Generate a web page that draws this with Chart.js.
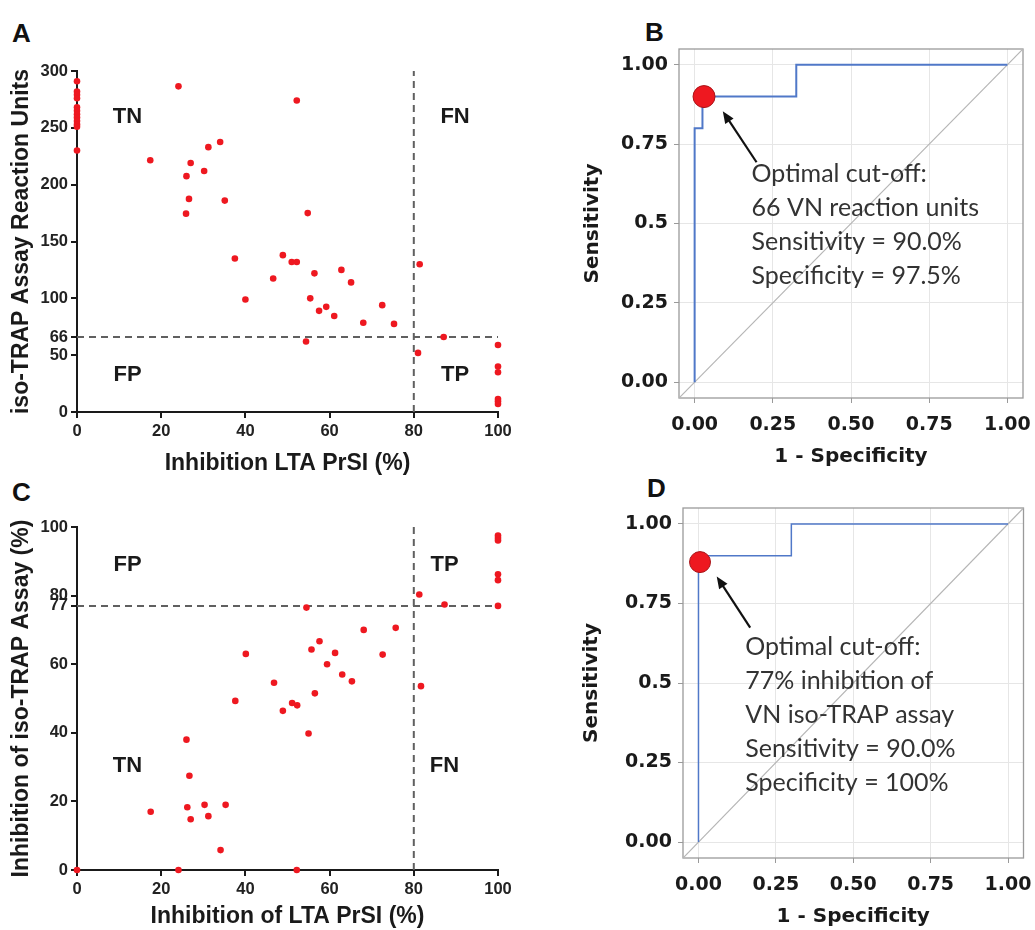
<!DOCTYPE html>
<html>
<head>
<meta charset="utf-8">
<script src="https://cdn.jsdelivr.net/npm/chart.js@4.4.0/dist/chart.umd.min.js"></script>
<style>
  body { margin: 0; background: #fff; width: 1035px; height: 930px; position: relative; overflow: hidden; }
  canvas { position: absolute; }
  .letter { position: absolute; font: bold 26px "Liberation Sans", Arial, sans-serif; line-height: 1; color: #111; }
</style>
</head>
<body>
<div class="letter" style="left:12px;top:20px">A</div>
<div class="letter" style="left:645px;top:19px">B</div>
<div class="letter" style="left:12px;top:479px">C</div>
<div class="letter" style="left:647px;top:475px">D</div>

<canvas id="chartA" width="520" height="480" style="left:0;top:0"></canvas>
<canvas id="chartB" width="515" height="470" style="left:520px;top:0"></canvas>
<canvas id="chartC" width="520" height="450" style="left:0;top:480px"></canvas>
<canvas id="chartD" width="515" height="460" style="left:520px;top:470px"></canvas>

<script>
// Datos panel A: inhibición LTA vs unidades iso-TRAP
const ltaA = [0, 0, 0, 0, 0, 0, 0, 0, 0, 0, 0, 0,
  24.1, 52.2, 17.4, 27, 31.2, 34, 26, 30.2, 26.6, 35.1, 25.9, 54.8,
  37.5, 48.9, 51, 52.2, 46.6, 56.4, 62.8, 65.1, 40, 55.4, 57.5, 59.2,
  61.1, 72.5, 68, 75.3, 81.4, 54.4, 81, 87.1,
  100, 100, 100, 100, 100, 100];
const unitsA = [291, 282, 279, 276, 268, 265, 262, 259, 256, 253, 251, 230,
  286.5, 274, 221.5, 219, 233, 237.5, 207.5, 212, 187.5, 186, 174.5, 175,
  135, 138, 132, 132, 117.5, 122, 125, 114, 99, 100, 89, 92.5,
  84.5, 94, 78.5, 77.5, 130, 62, 52, 66,
  59, 40, 35, 11.5, 9.5, 7];
const yTicksA = [0, 50, 66, 100, 150, 200, 250, 300];
const cutA = 66;

// Datos panel C: inhibición LTA vs inhibición iso-TRAP
const ltaC = [0, 24.1, 52.2,
  17.5, 26.2, 27, 30.3, 31.2, 35.3, 34.1, 26.7, 26, 37.6, 40.1, 46.8,
  48.9, 51.1, 52.3, 55, 54.5, 55.7, 57.6, 56.5, 59.4, 61.3, 63, 65.3,
  68.1, 72.6, 75.7, 81.3, 81.7, 87.3,
  100, 100, 100, 100, 100, 100];
const inhibC = [0, 0, 0,
  17, 18.3, 14.8, 19, 15.7, 19, 5.8, 27.5, 38, 49.3, 63, 54.6,
  46.4, 48.7, 48, 39.8, 76.5, 64.3, 66.7, 51.5, 60, 63.3, 57, 55,
  70, 62.8, 70.6, 80.3, 53.6, 77.4,
  97.5, 96.8, 96.1, 86.2, 84.5, 77];
const yTicksC = [0, 20, 40, 60, 77, 80, 100];
const cutC = 77;
const cutLTA = 80;

// Curvas ROC
const rocBx = [0, 0, 0.025, 0.025, 0.325, 0.325, 1];
const rocBy = [0, 0.8, 0.8, 0.9, 0.9, 1, 1];
const optB = [0.03, 0.9];
const rocDx = [0, 0, 0.3, 0.3, 1];
const rocDy = [0, 0.9, 0.9, 1, 1];
const optD = [0.005, 0.88];
const rocTicks = [0, 0.25, 0.5, 0.75, 1];
const rocXLabels = ["0.00", "0.25", "0.50", "0.75", "1.00"];
const rocYLabels = ["0.00", "0.25", "0.5", "0.75", "1.00"];

const notaB = ["Optimal cut-off:", "66 VN reaction units", "Sensitivity = 90.0%", "Specificity = 97.5%"];
const notaD = ["Optimal cut-off:", "77% inhibition of", "VN iso-TRAP assay", "Sensitivity = 90.0%", "Specificity = 100%"];

const ROJO = "rgb(238,24,32)";
const AZUL = "#5078c8";
const ARIAL = '"Liberation Sans", Arial, sans-serif';
const DEJAVU = '"DejaVu Sans", Verdana, sans-serif';

const puntos = (xs, ys) => xs.map((x, i) => ({ x, y: ys[i] }));

// Etiquetas TN / FN / FP / TP
const pluginCuadrantes = {
  id: "cuadrantes",
  afterDatasetsDraw(chart, args, opts) {
    const { ctx, scales: { x, y } } = chart;
    ctx.save();
    ctx.font = "bold 22px " + ARIAL;
    ctx.fillStyle = "#1a1a1a";
    ctx.textAlign = "center";
    ctx.textBaseline = "middle";
    opts.textos.forEach((t, i) => {
      ctx.fillText(t, x.getPixelForValue(opts.xs[i]), y.getPixelForValue(opts.ys[i]));
    });
    ctx.restore();
  },
};

// Marco, flecha y nota de los paneles ROC
const pluginROC = {
  id: "roc",
  beforeDatasetsDraw(chart) {
    const { ctx, chartArea: a } = chart;
    ctx.save();
    ctx.strokeStyle = "#9a9a9a";
    ctx.lineWidth = 1.3;
    ctx.strokeRect(a.left, a.top, a.right - a.left, a.bottom - a.top);
    ctx.restore();
  },
  afterDatasetsDraw(chart, args, opts) {
    const { ctx, scales: { x, y } } = chart;
    const x0 = x.getPixelForValue(opts.cola[0]), y0 = y.getPixelForValue(opts.cola[1]);
    const x1 = x.getPixelForValue(opts.punta[0]), y1 = y.getPixelForValue(opts.punta[1]);
    const ang = Math.atan2(y1 - y0, x1 - x0);
    ctx.save();
    ctx.strokeStyle = "#111";
    ctx.fillStyle = "#111";
    ctx.lineWidth = 2.2;
    ctx.beginPath();
    ctx.moveTo(x0, y0);
    ctx.lineTo(x1 - 8 * Math.cos(ang), y1 - 8 * Math.sin(ang));
    ctx.stroke();
    ctx.beginPath();
    ctx.moveTo(x1, y1);
    ctx.lineTo(x1 - 12 * Math.cos(ang) + 5 * Math.sin(ang), y1 - 12 * Math.sin(ang) - 5 * Math.cos(ang));
    ctx.lineTo(x1 - 12 * Math.cos(ang) - 5 * Math.sin(ang), y1 - 12 * Math.sin(ang) + 5 * Math.cos(ang));
    ctx.closePath();
    ctx.fill();

    ctx.font = "25px Lato, sans-serif";
    ctx.fillStyle = "#333";
    ctx.textAlign = "left";
    ctx.textBaseline = "middle";
    const tx = x.getPixelForValue(opts.ancla[0]);
    const ty = y.getPixelForValue(opts.ancla[1]);
    opts.lineas.forEach((l, i) => ctx.fillText(l, tx, ty + i * 34));
    ctx.restore();
  },
};

// Opciones de los paneles de dispersión (A y C)
const escalasDispersion = (cfg) => ({
  x: {
    type: "linear", min: 0, max: 100,
    afterFit: (s) => { s.height = cfg.altoX; s.paddingLeft = 0; s.paddingRight = 0; },
    grid: { drawOnChartArea: false, color: "#1a1a1a", lineWidth: 2, tickLength: 6 },
    border: { color: "#1a1a1a", width: 2 },
    ticks: { stepSize: 20, padding: 4, maxRotation: 0, color: "#222", font: { family: ARIAL, size: 16.5, weight: "bold" } },
    title: { display: true, text: cfg.tituloX, color: "#1a1a1a", padding: { top: 0, bottom: cfg.padTituloX }, font: { family: ARIAL, size: 23, weight: "bold", lineHeight: 1.2 } },
  },
  y: {
    type: "linear", min: 0, max: cfg.maxY,
    afterBuildTicks: (s) => { s.ticks = cfg.ticksY.map((v) => ({ value: v })); },
    afterFit: (s) => { s.width = 77; s.paddingTop = 0; s.paddingBottom = 0; },
    grid: { drawOnChartArea: false, color: "#1a1a1a", lineWidth: 2, tickLength: 6 },
    border: { color: "#1a1a1a", width: 2 },
    ticks: { autoSkip: false, padding: 3, color: "#222", font: { family: ARIAL, size: 16.5, weight: "bold" } },
    title: { display: true, text: cfg.tituloY, color: "#1a1a1a", padding: { top: 8, bottom: 0 }, font: { family: ARIAL, size: 23, weight: "bold", lineHeight: 1.2 } },
  },
});

const dashed = (data) => ({
  data, showLine: true, borderColor: "#606060", borderWidth: 2, borderDash: [7, 5],
  pointRadius: 0, clip: false,
});

const crearDispersion = (id, xs, ys, cfg) => new Chart(document.getElementById(id), {
  type: "scatter",
  data: {
    datasets: [
      { data: puntos(xs, ys), backgroundColor: ROJO, borderWidth: 0, pointRadius: 3.3, clip: false },
      dashed([{ x: 0, y: cfg.corte }, { x: 100, y: cfg.corte }]),
      dashed([{ x: cutLTA, y: 0 }, { x: cutLTA, y: cfg.maxY }]),
    ],
  },
  options: {
    responsive: false, animation: false,
    layout: { padding: { top: cfg.arriba, right: 22, left: 0, bottom: 0 } },
    scales: escalasDispersion(cfg),
    plugins: { legend: { display: false }, tooltip: { enabled: false }, cuadrantes: cfg.cuadrantes },
  },
  plugins: [pluginCuadrantes],
});

crearDispersion("chartA", ltaA, unitsA, {
  maxY: 300, ticksY: yTicksA, corte: cutA, arriba: 71, altoX: 68, padTituloX: 3,
  tituloX: "Inhibition LTA PrSI (%)", tituloY: "iso-TRAP Assay Reaction Units",
  cuadrantes: { textos: ["TN", "FN", "FP", "TP"], xs: [12, 89.8, 12, 89.8], ys: [260, 260, 33, 33] },
});

crearDispersion("chartC", ltaC, inhibC, {
  maxY: 100, ticksY: yTicksC, corte: cutC, arriba: 47, altoX: 60, padTituloX: 0,
  tituloX: "Inhibition of LTA PrSI (%)", tituloY: "Inhibition of iso-TRAP Assay (%)",
  cuadrantes: { textos: ["FP", "TP", "TN", "FN"], xs: [12, 87.3, 12, 87.3], ys: [89, 89, 30.3, 30.3] },
});

// Paneles ROC (B y D)
const crearROC = (id, rx, ry, opt, cfg) => new Chart(document.getElementById(id), {
  type: "scatter",
  data: {
    datasets: [
      { data: [{ x: opt[0], y: opt[1] }], backgroundColor: ROJO, borderColor: "#a81418", borderWidth: 1, pointRadius: cfg.radio, clip: false },
      { data: puntos(rx, ry), showLine: true, borderColor: AZUL, borderWidth: cfg.grosor, pointRadius: 0, clip: false },
      { data: [{ x: -0.05, y: -0.05 }, { x: 1.05, y: 1.05 }], showLine: true, borderColor: "#b5b5b5", borderWidth: 1.2, pointRadius: 0 },
    ],
  },
  options: {
    responsive: false, animation: false,
    layout: { padding: { top: cfg.arriba, right: cfg.derecha, left: 0, bottom: 0 } },
    scales: {
      x: {
        type: "linear", min: -0.05, max: 1.05,
        afterBuildTicks: (s) => { s.ticks = rocTicks.map((v) => ({ value: v })); },
        afterFit: (s) => { s.height = cfg.altoX; s.paddingLeft = 0; s.paddingRight = 0; },
        grid: { color: "#e6e6e6", lineWidth: 1, tickColor: "#9a9a9a", tickLength: 5 },
        border: { display: false },
        ticks: { autoSkip: false, maxRotation: 0, padding: 11, color: "#1a1a1a", font: { family: DEJAVU, size: 19, weight: "bold" },
          callback: (v, i) => rocXLabels[i] },
        title: { display: true, text: "1 - Specificity", color: "#1a1a1a", padding: { top: 0, bottom: 1 }, font: { family: DEJAVU, size: 20, weight: "bold", lineHeight: 1.2 } },
      },
      y: {
        type: "linear", min: -0.05, max: 1.05,
        afterBuildTicks: (s) => { s.ticks = rocTicks.map((v) => ({ value: v })); },
        afterFit: (s) => { s.width = cfg.anchoY; s.paddingTop = 0; s.paddingBottom = 0; },
        grid: { color: "#e6e6e6", lineWidth: 1, tickColor: "#9a9a9a", tickLength: 5 },
        border: { display: false },
        ticks: { autoSkip: false, padding: 6, color: "#1a1a1a", font: { family: DEJAVU, size: 19, weight: "bold" },
          callback: (v, i) => rocYLabels[i] },
        title: { display: true, text: "Sensitivity", color: "#1a1a1a", padding: { top: cfg.padTituloY, bottom: 0 }, font: { family: DEJAVU, size: 20, weight: "bold", lineHeight: 1.2 } },
      },
    },
    plugins: { legend: { display: false }, tooltip: { enabled: false }, roc: cfg.nota },
  },
  plugins: [pluginROC],
});

crearROC("chartB", rocBx, rocBy, optB, {
  radio: 11, grosor: 2, arriba: 49, derecha: 3, altoX: 72, anchoY: 159, padTituloY: 61,
  nota: { lineas: notaB, ancla: [0.182, 0.655], cola: [0.198, 0.693], punta: [0.09, 0.854] },
});

crearROC("chartD", rocDx, rocDy, optD, {
  radio: 10.5, grosor: 1.5, arriba: 38, derecha: 2, altoX: 72, anchoY: 163, padTituloY: 60,
  nota: { lineas: notaD, ancla: [0.151, 0.614], cola: [0.167, 0.674], punta: [0.059, 0.835] },
});
</script>
</body>
</html>
